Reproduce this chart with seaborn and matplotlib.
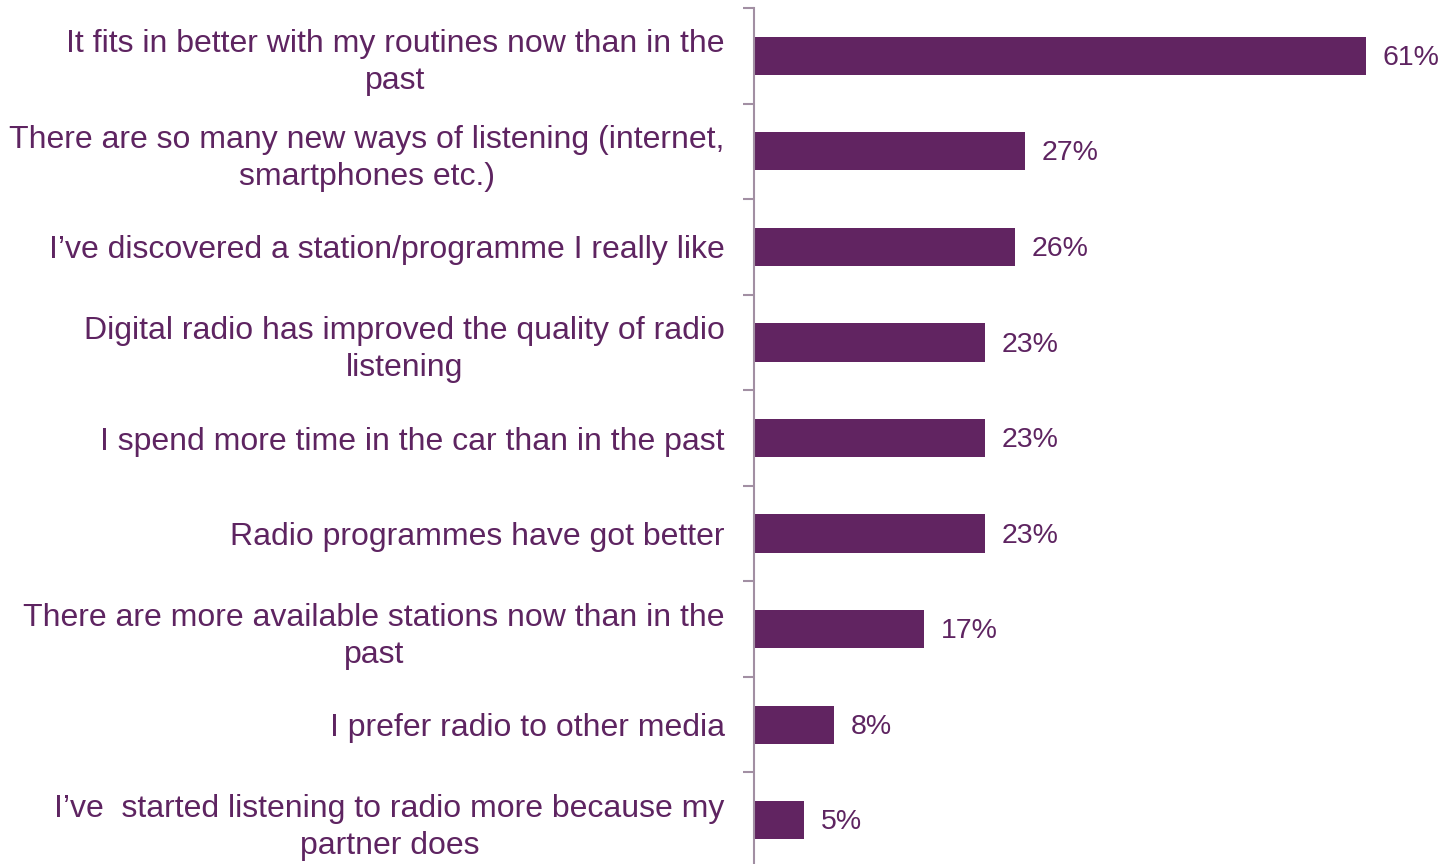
import matplotlib
matplotlib.use("Agg")
import matplotlib.pyplot as plt
import seaborn as sns
import pandas as pd
import numpy as np

reasons = [
    "It fits in better with my routines now than in the\npast",
    "There are so many new ways of listening (internet,\nsmartphones etc.)",
    "I\u2019ve discovered a station/programme I really like",
    "Digital radio has improved the quality of radio\nlistening",
    "I spend more time in the car than in the past",
    "Radio programmes have got better",
    "There are more available stations now than in the\npast",
    "I prefer radio to other media",
    "I\u2019ve  started listening to radio more because my\npartner does",
]
shares = [61, 27, 26, 23, 23, 23, 17, 8, 5]
value_labels = [f"{v}%" for v in shares]

BAR = "#612461"
TEXT = "#5E2461"
SPINE = "#A28FA3"

sns.set_theme(style="white")
plt.rcParams["font.family"] = ["Liberation Sans", "DejaVu Sans"]

df = pd.DataFrame({"reason": reasons, "share": shares})

fig = plt.figure(figsize=(14.43, 8.64), dpi=100)
ax = fig.add_axes([754 / 1443, -4 / 864, 689 / 1443, 860 / 864])

sns.barplot(data=df, x="share", y="reason", orient="h", color=BAR,
            width=0.4, saturation=1, ax=ax, edgecolor="none")

ax.set_xlim(0, 68.7)
ax.set_ylim(len(reasons) - 0.5, -0.5)

for p, lab in zip(ax.patches, value_labels):
    ax.annotate(lab, (p.get_width(), p.get_y() + p.get_height() / 2),
                xytext=(12, -1.5), textcoords="offset points",
                va="center", ha="left", fontsize=20.5, color=TEXT)

for s in ["top", "right", "bottom"]:
    ax.spines[s].set_visible(False)
ax.spines["left"].set_color(SPINE)
ax.spines["left"].set_linewidth(1.5)

ax.set_xticks([])
ax.set_xlabel("")
ax.set_ylabel("")
ax.tick_params(axis="y", which="major", length=0, pad=21, labelsize=23,
               labelcolor=TEXT)
ax.set_yticks(np.arange(-0.5, len(reasons) + 0.5, 1), minor=True)
ax.tick_params(axis="y", which="minor", length=8, width=1.5, color=SPINE,
               direction="out", left=True)
for t in ax.get_yticklabels():
    t.set_multialignment("center")
    t.set_linespacing(1.3)

fig.savefig("out.png", dpi=100)
